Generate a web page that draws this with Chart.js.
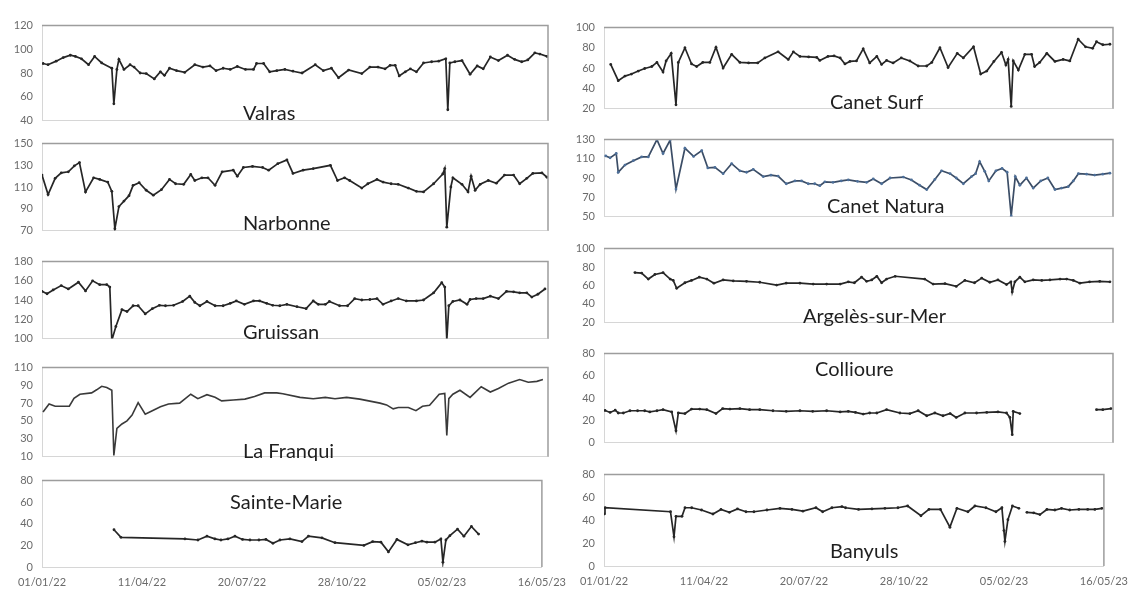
<!DOCTYPE html>
<html>
<head>
<meta charset="utf-8">
<script src="https://cdn.jsdelivr.net/npm/chart.js@4.4.1/dist/chart.umd.min.js"></script>
<style>
  html, body { margin: 0; padding: 0; background: #fff; }
  body { position: relative; width: 1137px; height: 590px; overflow: hidden; font-family: Lato, "Open Sans", sans-serif; }
  canvas { position: absolute; }
  .name { position: absolute; font: 20px Lato, "Open Sans", sans-serif; color: #1f1f1f; line-height: 1; white-space: nowrap; }
</style>
</head>
<body>
<script>
// Shared time axis: day offsets from 01/01/22, one label every 100 days
const dateTicks = ['01/01/22', '11/04/22', '20/07/22', '28/10/22', '05/02/23', '16/05/23'];

// ---- Valras ----
const valrasDays = [1,6,14,21,28,33,39,46,52,59,69,71,74,76,81,87,91,97,103,111,117,121,126,133,141,151,159,166,172,179,186,193,201,209,212,219,225,232,240,248,257,270,278,286,293,303,316,324,332,339,344,349,353,359,364,370,377,385,392,399,401,403,408,415,423,430,436,443,451,460,467,474,480,487,492,499];
const valrasVals = [88,87,90,93,95,94,92,87,94,88.5,84,54,83,91.5,83,87,85,80,79.5,75,81,78,84,82,80.5,87,85,86,82,84,83,85.5,83,83,88,88,81,82,83,81.5,80,87,82,84,76,82.5,79.5,85,85,83.5,86.5,86.5,77.5,81,83.5,81,88.5,89.5,90,92,49,88.5,89.5,90.5,79,86,83.5,93.5,90.5,95,91.5,89.5,91,97,96,94];

// ---- Narbonne ----
const narbonneDays = [0,6,13,19,26,32,37,43,51,57,65,69,72,76,81,86,90,96,103,110,118,126,132,140,147,151,158,164,171,178,189,193,199,208,218,224,233,242,248,258,268,285,292,299,304,316,322,331,337,345,352,362,370,377,387,396,398,400,404,406,415,421,424,428,433,441,449,457,466,472,479,485,494,499];
const narbonneVals = [121,103,118,123,124,129.5,132.5,105.5,118.5,117,114.5,106,71.5,92,97,102,111.5,114,107,102.5,107.5,117,113,112.5,121.5,116,118.5,118.5,111.5,124,125.5,120,128,129,128,125.5,131.5,135,122.5,125.5,127,130,116,118.5,116,109,113,117,114.5,113,112.5,109,106,105.5,113,122,127,73,110,118.5,112.5,105.5,120,107,112.5,116,113.5,121,121,113,118,122.5,123,119];

// ---- Gruissan ----
const gruissanDays = [0,5,11,19,26,36,43,50,57,64,67,69,73,79,84,90,95,102,109,116,122,130,139,146,151,156,163,171,179,186,192,200,209,215,222,228,235,242,252,261,268,273,280,284,294,302,309,316,324,331,337,345,352,360,370,377,387,395,398,400,402,406,413,420,423,429,436,443,451,459,466,472,479,484,490,497];
const gruissanVals = [149,146.5,150.5,155,151.5,158.5,149.5,160,156,156,153.5,98,112.5,130,128,134,134,125.5,131,134.5,134,134.5,138.5,144,137.5,134,138.5,134,134,136.5,139,135.5,139,139,136.5,134.5,134,135.5,133,131,139,135.5,135.5,138.5,134,134,141.5,140,140.5,141.5,135.5,139,141.5,139,139,140,147.5,158,153.5,98,134,138.5,140,135.5,140.5,141.5,141.5,144,141.5,149,148.5,147.5,147.5,143,146,151.5];

// ---- La Franqui ----
const franquiDays = [1,7,13,24,27,31.6,37.5,49,54,59,64,69,71,74,79,84,89,95,102,109,117,125,136,147,154,163,171,177.5,189,200.5,210,220,232,238,255,268,280,289.5,301,314,334,340.5,347,352,362,369.5,376,383,392.5,398,400,402,406,413,423,434,443,451,461,472,480.5,489,495];
const franquiVals = [60,69,66.5,66.5,66.5,75.5,80,81.5,85,89,87.5,84.5,11,41.5,46.5,50,56.5,70.5,57.5,61.5,66,69,70,80,75,79.5,76.5,72.5,73.5,74.5,77.5,81.5,81.5,80.5,76.5,75,76.5,75,76.5,74.5,70,68,63.5,65,65,61.5,66.5,67.5,80,81,33.5,75,80,84.5,76.5,88.5,82.5,86.5,92.5,96.5,93.5,94.5,96.5];

// ---- Sainte-Marie ----
const sainteMarieDays = [72,79,143,156,165,173,179,186,193,200.5,208,217,224,231,238,248,260,266.5,280,293,322,330.7,339,346.5,355,366,373.5,380,385,393,399,401,404,408,415.6,422,429.5,436.7];
const sainteMarieVals = [34.5,27.5,26,25,28.5,26,25,26,28.5,25.5,25,25,25.5,22,25,26,23.5,28.5,27,22.5,20,23.5,23,14,25.5,20.5,22.5,24,23,23,26,4.5,25,29,35,28.5,37.5,30.5];

// ---- Canet Surf ----
const canetSurfDays = [6.6,14,20.6,27,33.7,40,47,52,58,61,66,70.7,73,79.5,86,91,97,104,110,117,125.4,133.5,142,151,158,171,181,186,192.5,201,209,212,220,226,232,236.7,241.6,248,254.6,261,268,272.7,277.6,284,292,300.5,308.6,317,322,330,338,347,353,363,370,376,383,390.5,394.8,397,400,402,407,413.4,420,423,428,435,443,451,457.6,465.8,473,480,483.8,490,497];
const canetSurfVals = [63.5,47.5,52,54,57,59.5,61.5,65.5,56,67,74.5,23.5,65.5,80,64,61.5,65.5,65.5,80.5,60,73.5,65.5,65,65,70,76,68.5,76,71.5,71,70.5,67.5,71.5,72,70,64,66.5,67,79,65,71.5,63.5,67.5,65,70,67,62,62,65.5,80,60.5,74.5,70,81,54,57,66.5,75.5,63,68.5,22,67,58,73.5,73.5,61.5,65.5,74.5,66.5,68.5,67,88.5,81,79.5,86,83,83.5];

// ---- Canet Natura ----
const canetNaturaDays = [1.7,6,12,14,20.6,28.8,37,43.5,52,58,65,70.7,79.5,88,96,102,109,117,125.4,133.5,140,146.6,156.4,164,171,179,187.6,194,200.6,207,212,217,225,233,240,249,258,264.5,272.7,281,294,302,310,317,325,331.6,340,346,353,361,365,369,374,378,385,391,396,400,404,408.5,415,421.6,429,436,443,449.5,456,461,466,474,482,490,497];
const canetNaturaVals = [113,111,115.5,96,103.5,108,112,112,130,115.5,129.5,78.5,121,112.5,118.5,100.5,101,94.5,105,97.5,96,99,91.5,93,92,84,87,87,84,84,82,86,85.5,87,88,86.5,85.5,89,84,90,91,88,82.5,78,88.5,97.5,94.5,90,84,91.5,94.5,107,97,87,97.5,100,96,50.5,91.5,82.5,90,79.5,87,90,78,79.5,81,87,94.5,94,93,94,95];

// ---- Argelès-sur-Mer ----
const argelesDays = [30.4,37,43.5,50,58,65,68,71.4,79.5,86,93.6,101,108,117,127,140,153,169.6,179,192.5,205.5,218.7,232,240,246,253,258,263,268,272.7,277.6,286,315,323.3,335,346,354.5,364,371,379,387,395.4,399.7,401,403.6,408.5,413.4,421.6,430,438,448,454.5,461,467.5,477,487,497];
const argelesVals = [74,73.5,67,72,74,67,65.5,57,63,65.5,69,67,62.5,66,65,64.5,63.5,60.5,62.5,62.5,61.5,61.5,61.5,64,63,69,64.5,66,70,63,67,70,67,61.5,62,59,65.5,63,68,63.5,66,61,64,53,64,69,64,66,65.5,66,67,67,65.5,62.5,64,64.5,64];

// ---- Collioure (no measurements between mid-February and early May 2023) ----
const meteoCollioureDays = [1,6,11,14,19,25.5,33,40,45,52,58,66.5,70.7,73,79.5,86,94,101,110,116.6,123.7,133.5,143,153,166,179,192.5,205,218.7,232,240,247,254.6,261,268,277.6,290.7,300.5,308.6,317,325,333,340,346,354.5,366,376,387,395.4,398.7,401,402,408.5,446,483.8,490,498];
const meteoCollioureVals = [28.8,27,29,26.5,26.5,28.5,28.5,28.5,27.5,28.5,29.5,27.5,10.5,26.5,26,30,30,29.5,26,30.5,30,30.5,29.5,29.5,28.5,28,28.5,28,28.5,27.5,28,27,25.5,26.5,26.5,29.5,26.5,26,28.5,24,26.5,24,26,22.5,26.5,26.5,27,27.5,26.5,22.5,7,28,26,null,29.5,29.5,30.5];

// ---- Banyuls ----
const banyulsDays = [0,1,66.5,70,72,78,81,87.7,97.5,109,117,125.4,133.5,142,150,163,176,188,199,212,218.7,228,238,241.6,254.6,268,281,294,303.7,317,325,336.5,346,353,364,371,382,392,398,400,401,404,408.5,415,419,423,429.8,436,443,451,457.6,465.8,475,483.8,491,498];
const banyulsVals = [45.5,51,47.5,25.5,43.5,43.5,51,51,49,45.5,49.5,47,50,47.5,47.5,49,50.5,49.5,48,51,47.5,51,52,51,49.5,50,50.5,51,52.5,44,49.5,49.5,34,50.5,47.5,52.5,51,47.5,51,31,21.5,40.5,52.5,50.5,null,47,46.5,45,49.5,49,50.5,49,49.5,49.5,49.5,50.5];

// Panel layout: column 0 = Aude coast, column 1 = Pyrénées-Orientales coast
const panels = [
  { name: 'Valras',          days: valrasDays,          vals: valrasVals,          min: 40,  max: 120, col: 0, top: 20,  bottom: 126, axis: false, nx: 243, ny: 102 },
  { name: 'Narbonne',        days: narbonneDays,        vals: narbonneVals,        min: 70,  max: 150, col: 0, top: 138, bottom: 236, axis: false, nx: 243, ny: 212 },
  { name: 'Gruissan',        days: gruissanDays,        vals: gruissanVals,        min: 100, max: 180, col: 0, top: 256, bottom: 344, axis: false, nx: 243, ny: 321 },
  { name: 'La Franqui',      days: franquiDays,         vals: franquiVals,         min: 10,  max: 110, col: 0, top: 362, bottom: 462, axis: false, nx: 243, ny: 440, smooth: true },
  { name: 'Sainte-Marie',    days: sainteMarieDays,     vals: sainteMarieVals,     min: 0,   max: 80,  col: 0, top: 475, bottom: 567, axis: true,  nx: 230, ny: 491 },
  { name: 'Canet Surf',      days: canetSurfDays,       vals: canetSurfVals,       min: 20,  max: 100, col: 1, top: 22,  bottom: 114, axis: false, nx: 830, ny: 91 },
  { name: 'Canet Natura',    days: canetNaturaDays,     vals: canetNaturaVals,     min: 50,  max: 130, col: 1, top: 134, bottom: 222, axis: false, nx: 827, ny: 195, blue: true },
  { name: 'Argelès-sur-Mer', days: argelesDays,         vals: argelesVals,         min: 20,  max: 100, col: 1, top: 243, bottom: 328, axis: false, nx: 803, ny: 305 },
  { name: 'Collioure',       days: meteoCollioureDays,  vals: meteoCollioureVals,  min: 0,   max: 80,  col: 1, top: 348, bottom: 448, axis: false, nx: 815, ny: 358 },
  { name: 'Banyuls',         days: banyulsDays,         vals: banyulsVals,         min: 0,   max: 80,  col: 1, top: 469, bottom: 566, axis: true,  nx: 830, ny: 540 }
];

// Frame: darker top and right edges of each plot area
const frame = {
  id: 'frame',
  afterDraw(chart) {
    const { ctx, chartArea: a } = chart;
    ctx.save();
    ctx.strokeStyle = '#9d9d9d';
    ctx.lineWidth = 1.5;
    ctx.beginPath();
    ctx.moveTo(a.left, a.top);
    ctx.lineTo(a.right, a.top);
    ctx.lineTo(a.right, a.bottom);
    ctx.stroke();
    ctx.restore();
  }
};

const tickFont = { family: 'Lato', size: 11 };
const tickColor = '#6b6b6b';

panels.forEach(p => {
  const padTop = 10;
  const axisH = p.axis ? 26 : 0;
  const padBottom = p.axis ? 0 : 10;
  const left = p.col ? 560 : 0;
  const width = p.col ? 577 : 575;
  const padRight = p.col ? 24 : 27;
  const yAxisW = p.col ? 44 : 42;
  const height = (p.bottom - p.top) + padTop + padBottom + axisH;

  const cv = document.createElement('canvas');
  cv.width = width;
  cv.height = height;
  cv.style.left = left + 'px';
  cv.style.top = (p.top - padTop) + 'px';
  cv.style.width = width + 'px';
  cv.style.height = height + 'px';
  document.body.appendChild(cv);

  const lineColor = p.blue ? '#3b4d66' : (p.smooth ? '#3a3a3a' : '#262626');
  const pointColor = p.blue ? '#4d6f99' : '#262626';

  new Chart(cv, {
    type: 'line',
    data: {
      datasets: [{
        data: p.days.map((d, i) => ({ x: d, y: p.vals[i] })),
        borderColor: lineColor,
        borderWidth: p.smooth ? 1.6 : 1.7,
        pointRadius: p.smooth ? 0 : 1.4,
        pointBackgroundColor: pointColor,
        pointBorderWidth: 0,
        tension: 0,
        spanGaps: false
      }]
    },
    options: {
      responsive: false,
      animation: false,
      devicePixelRatio: 1,
      layout: { padding: { top: padTop, right: padRight, bottom: padBottom, left: 0 } },
      plugins: { legend: { display: false }, tooltip: { enabled: false } },
      scales: {
        x: {
          type: 'linear',
          min: 0,
          max: 500,
          grid: { display: true, color: 'rgba(0,0,0,0)', drawTicks: false },
          border: { display: true, color: '#d6d6d6', width: 1 },
          ticks: {
            display: p.axis,
            stepSize: 100,
            autoSkip: false,
            maxRotation: 0,
            padding: 9,
            color: tickColor,
            font: tickFont,
            callback: v => dateTicks[Math.round(v / 100)]
          },
          afterFit: s => { s.height = axisH; }
        },
        y: {
          min: p.min,
          max: p.max,
          grid: { display: true, color: 'rgba(0,0,0,0)', drawTicks: false },
          border: { display: true, color: '#d6d6d6', width: 1 },
          ticks: { stepSize: 20, padding: 9, color: tickColor, font: tickFont },
          afterFit: s => { s.width = yAxisW; }
        }
      }
    },
    plugins: [frame]
  });

  const label = document.createElement('div');
  label.className = 'name';
  label.textContent = p.name;
  label.style.left = p.nx + 'px';
  label.style.top = p.ny + 'px';
  document.body.appendChild(label);
});
</script>
</body>
</html>
